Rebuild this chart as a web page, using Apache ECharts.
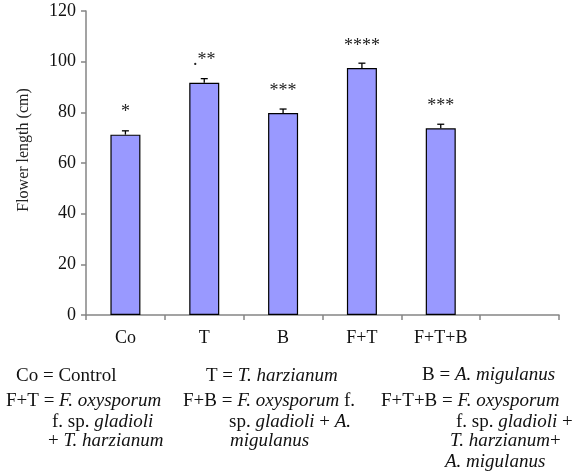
<!DOCTYPE html>
<html>
<head>
<meta charset="utf-8">
<script src="https://cdn.jsdelivr.net/npm/echarts@6/dist/echarts.min.js"></script>
<style>
  html, body { margin: 0; padding: 0; background: #fff; }
  #chart { width: 578px; height: 476px; }
</style>
</head>
<body>
<div id="chart"></div>
<script>
// Treatments (the sixth slot is an empty category at the end of the axis)
const categories = ['Co', 'T', 'B', 'F+T', 'F+T+B', ''];
// Mean flower length (cm) per treatment
const flowerLength = [71.2, 91.7, 79.7, 97.5, 73.7];
// Standard error (cm)
const stdError = [1.5, 1.6, 1.6, 1.9, 1.6];
// Significance marks above each bar
const signif = ['*', '.**', '***', '****', '***'];
// Y axis ticks
const yTicks = [0, 20, 40, 60, 80, 100, 120];

const SERIF = '"Liberation Serif", "Times New Roman", serif';

// Legend lines under the chart: [x, baseline, rich text]
const legendLines = [
  [16, 384, 'Co = Control'],
  [206, 384, 'T = {i|T. harzianum}'],
  [422, 383, 'B = {i|A. migulanus}'],
  [6, 409, 'F+T = {i|F. oxysporum}'],
  [52, 430, 'f. sp. {i|gladioli}'],
  [48, 449, '+ {i|T. harzianum}'],
  [183, 409, 'F+B = {i|F. oxysporum} f.'],
  [229, 430, 'sp. {i|gladioli} + {i|A.}'],
  [230, 449, '{i|migulanus}'],
  [381, 409, 'F+T+B = {i|F. oxysporum}'],
  [456, 430, 'f. sp. {i|gladioli} +'],
  [450, 449, '{i|T. harzianum}+'],
  [445, 470, '{i|A. migulanus}']
];

const LEG_FONT = 19;
const legendGraphics = legendLines.map(([x, base, txt]) => ({
  type: 'text',
  left: x,
  top: base - LEG_FONT * 0.9,
  style: {
    text: txt,
    fontFamily: SERIF,
    fontSize: LEG_FONT,
    fill: '#111',
    rich: {
      i: { fontStyle: 'italic', fontFamily: SERIF, fontSize: LEG_FONT, fill: '#111' }
    }
  }
}));

const chart = echarts.init(document.getElementById('chart'), null, { renderer: 'canvas' });

chart.setOption({
  animation: false,
  backgroundColor: '#fff',
  grid: { left: 86, right: 19, top: 11, height: 304, containLabel: false },
  xAxis: {
    type: 'category',
    data: categories,
    boundaryGap: true,
    axisLine: { lineStyle: { color: '#858585', width: 1.5 } },
    axisTick: { show: true, length: 5, inside: false, lineStyle: { color: '#858585', width: 1.5 } },
    axisLabel: { fontFamily: SERIF, fontSize: 18, color: '#111', margin: 14 }
  },
  yAxis: {
    type: 'value',
    min: yTicks[0],
    max: yTicks[yTicks.length - 1],
    interval: yTicks[1] - yTicks[0],
    splitLine: { show: false },
    axisLine: { show: true, lineStyle: { color: '#858585', width: 1.5 } },
    axisTick: { show: true, length: 5, lineStyle: { color: '#858585', width: 1.5 } },
    axisLabel: { fontFamily: SERIF, fontSize: 18, color: '#111', margin: 10 }
  },
  graphic: [
    {
      type: 'text',
      x: 24,
      y: 150,
      rotation: Math.PI / 2,
      style: {
        text: 'Flower length (cm)',
        fontFamily: SERIF,
        fontSize: 16,
        fill: '#222',
        align: 'center',
        verticalAlign: 'middle'
      }
    }
  ].concat(legendGraphics),
  series: [
    {
      type: 'bar',
      data: flowerLength,
      barWidth: 30,
      itemStyle: { color: '#9999FF', borderColor: '#000', borderWidth: 1.2 },
      label: {
        show: true,
        position: 'top',
        distance: 13,
        formatter: p => signif[p.dataIndex],
        fontFamily: SERIF,
        fontSize: 18,
        color: '#222'
      },
      z: 2
    },
    {
      // upper error whiskers
      type: 'custom',
      z: 3,
      data: flowerLength.map((v, i) => [i, v, v + stdError[i]]),
      renderItem: (params, api) => {
        const base = api.coord([api.value(0), api.value(1)]);
        const top = api.coord([api.value(0), api.value(2)]);
        const half = 3.5;
        const st = { stroke: '#000', lineWidth: 1.3 };
        return {
          type: 'group',
          children: [
            { type: 'line', shape: { x1: base[0], y1: base[1], x2: top[0], y2: top[1] }, style: st },
            { type: 'line', shape: { x1: top[0] - half, y1: top[1], x2: top[0] + half, y2: top[1] }, style: st }
          ]
        };
      }
    }
  ]
});
</script>
</body>
</html>
